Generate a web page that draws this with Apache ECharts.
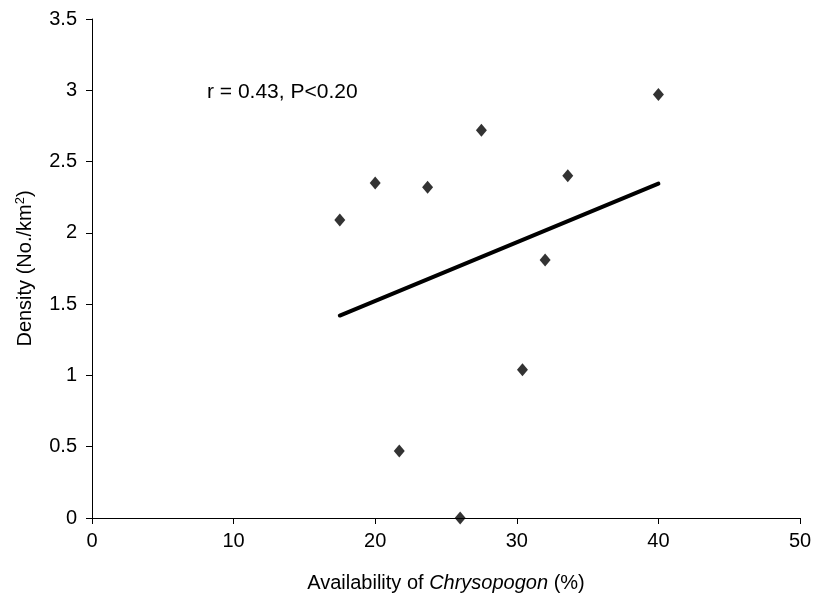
<!DOCTYPE html>
<html>
<head>
<meta charset="utf-8">
<script src="https://cdn.jsdelivr.net/npm/echarts@6/dist/echarts.min.js"></script>
<style>html,body{margin:0;padding:0;background:#fff;}#c{width:816px;height:601px;}</style>
</head>
<body>
<div id="c"></div>
<script>
var availability = [17.5, 20.0, 21.7, 23.7, 26.0, 27.5, 30.4, 32.0, 33.6, 40.0];
var density = [2.09, 2.35, 0.47, 2.32, 0.00, 2.72, 1.04, 1.81, 2.40, 2.97];
var trendX = [17.5, 40.0];
var trendY = [1.42, 2.345];
var xTicks = [0, 10, 20, 30, 40, 50];
var yTicks = [0, 0.5, 1, 1.5, 2, 2.5, 3, 3.5];
var annotation = 'r = 0.43, P<0.20';

var font = 'Liberation Sans, Arial, sans-serif';
var chart = echarts.init(document.getElementById('c'));
chart.setOption({
  animation: false,
  backgroundColor: '#fff',
  grid: {left: 92, right: 16, top: 19, bottom: 83, containLabel: false, outerBoundsMode: 'none'},
  xAxis: {
    type: 'value', min: xTicks[0], max: xTicks[xTicks.length - 1], interval: 10,
    axisLine: {show: true, onZero: false, lineStyle: {color: '#000', width: 1}},
    axisTick: {show: true, inside: false, length: 6, lineStyle: {color: '#000'}},
    splitLine: {show: false},
    axisLabel: {color: '#000', fontFamily: font, fontSize: 20, margin: 13},
    name: '{n|Availability of }{i|Chrysopogon}{n| (%)}',
    nameLocation: 'middle', nameGap: 55,
    nameTextStyle: {rich: {
      n: {fontFamily: font, fontSize: 20, color: '#000'},
      i: {fontFamily: font, fontSize: 20, color: '#000', fontStyle: 'italic'}
    }}
  },
  yAxis: {
    type: 'value', min: yTicks[0], max: yTicks[yTicks.length - 1], interval: 0.5,
    axisLine: {show: true, onZero: false, lineStyle: {color: '#000', width: 1}},
    axisTick: {show: true, inside: false, length: 6, lineStyle: {color: '#000'}},
    splitLine: {show: false},
    axisLabel: {color: '#000', fontFamily: font, fontSize: 20, margin: 15,
      formatter: function (v) { return String(v); }},
    name: '{n|Density (No./km}{s|2}{n|)}',
    nameLocation: 'middle', nameGap: 56,
    nameTextStyle: {rich: {
      n: {fontFamily: font, fontSize: 20, color: '#000'},
      s: {fontFamily: font, fontSize: 13, color: '#000', verticalAlign: 'top', padding: [0, 0, 9, 0]}
    }}
  },
  graphic: [{
    type: 'text', left: 207, top: 82,
    style: {text: annotation, font: '21px ' + font, fill: '#000'}
  }],
  series: [{
    type: 'line',
    data: trendX.map(function (x, i) { return [x, trendY[i]]; }),
    symbol: 'none',
    lineStyle: {color: '#000', width: 4, cap: 'round'},
    z: 2
  }, {
    type: 'scatter',
    data: availability.map(function (x, i) { return [x, density[i]]; }),
    symbol: 'diamond', symbolSize: [11, 13],
    itemStyle: {color: '#000'},
    z: 3
  }]
});
</script>
</body>
</html>
